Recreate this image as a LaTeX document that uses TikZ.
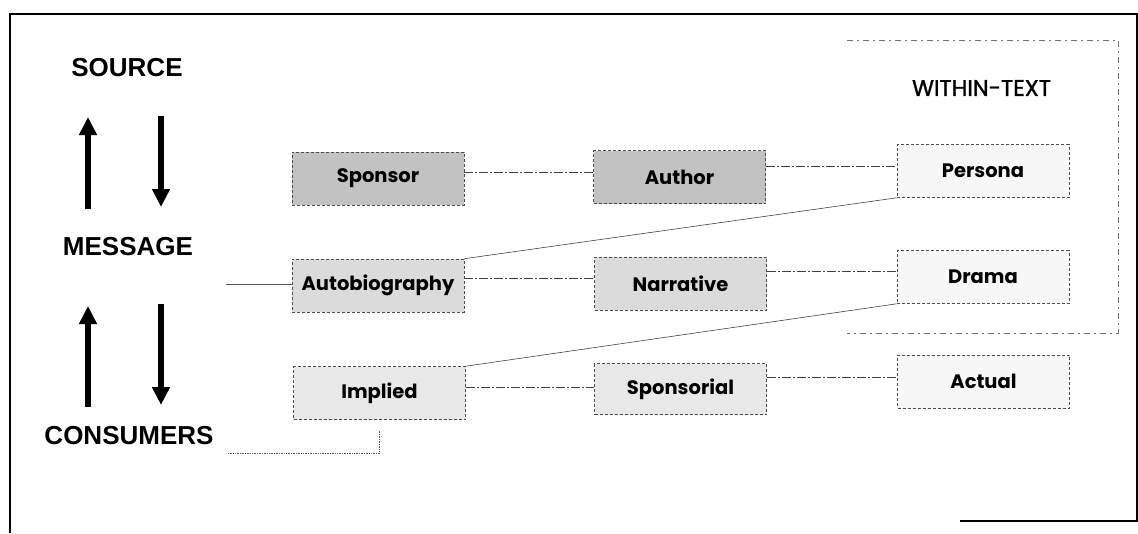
\documentclass[tikz,border=0pt]{standalone}
\usepackage{fontspec}
\setmainfont{Liberation Sans}
\newfontfamily\labelfont{Poppins}
\newfontfamily\withinfont[FakeBold=1.4]{Poppins}
\usetikzlibrary{arrows.meta}
\tikzset{
  heading/.style={font=\fontsize{26}{30}\selectfont\bfseries, inner sep=0pt},
  rolebox/.style={draw=black!70, densely dashed, line width=0.6pt,
    minimum width=172pt, minimum height=53pt, inner sep=0pt,
    font=\labelfont\fontsize{19.5}{22}\selectfont\bfseries},
  darkbox/.style={rolebox, fill=black!24},
  midbox/.style={rolebox, fill=black!14},
  lightbox/.style={rolebox, fill=black!9},
  textbox/.style={rolebox, fill=black!3},
  link/.style={draw=black!75, line width=0.6pt, dash pattern=on 9pt off 2pt on 2pt off 2pt},
  slant/.style={draw=black!75, line width=0.6pt},
  flow/.style={line width=6pt, -{Triangle[width=17pt,length=18pt]}},
  region/.style={draw=black!55, line width=0.6pt, dash pattern=on 6pt off 4pt on 2pt off 4pt}
}
\begin{document}
\begin{tikzpicture}[x=1pt,y=-1pt]
  \useasboundingbox (0,0) rectangle (1138,533);
  % outer frame
  \draw[line width=1.1pt] (10,533) -- (10,14) -- (1137,14) -- (1137,521) -- (960,521);

  % left column headings
  \node[heading] (source) at (127,67.5) {SOURCE};
  \node[heading] (message) at (128,246.5) {MESSAGE};
  \node[heading] (consumers) at (129,436) {CONSUMERS};

  % flow arrows between the headings
  \coordinate (u1s) at (88,209); \coordinate (u1e) at (88,117);
  \coordinate (d1s) at (161,116); \coordinate (d1e) at (161,207);
  \coordinate (u2s) at (88,407); \coordinate (u2e) at (88,306);
  \coordinate (d2s) at (161,304); \coordinate (d2e) at (161,405);
  \draw[flow] (u1s) -- (u1e);
  \draw[flow] (d1s) -- (d1e);
  \draw[flow] (u2s) -- (u2e);
  \draw[flow] (d2s) -- (d2e);

  % within-text region
  \draw[region] (847,40) -- (1118,40) -- (1118,333) -- (847,333);
  \node[font=\withinfont\fontsize{22.5}{26}\selectfont] (within) at (981.5,88) {WITHIN-TEXT};

  % role boxes
  \node[darkbox] (sponsor) at (378,178.5) {Sponsor};
  \node[darkbox] (author) at (679.5,177) {Author};
  \node[textbox] (persona) at (983,171) {Persona};
  \node[midbox] (autobio) at (378,285.5) {Autobiography};
  \node[midbox] (narrative) at (680.5,283.5) {Narrative};
  \node[textbox] (drama) at (983,277) {Drama};
  \node[lightbox] (implied) at (379.5,393) {Implied};
  \node[lightbox, minimum height=51pt] (sponsorial) at (680.5,389) {Sponsorial};
  \node[textbox] (actual) at (983.5,381.5) {Actual};

  % horizontal links
  \draw[link] ([yshift=6.5pt]sponsor.east) -- ([yshift=6.5pt]sponsor.east -| author.west);
  \draw[link] ([yshift=11pt]author.east) -- ([yshift=11pt]author.east -| persona.west);
  \draw[link] ([yshift=7.5pt]autobio.east) -- ([yshift=7.5pt]autobio.east -| narrative.west);
  \draw[link] ([yshift=12.5pt]narrative.east) -- ([yshift=12.5pt]narrative.east -| drama.west);
  \draw[link] ([yshift=6pt]implied.east) -- ([yshift=6pt]implied.east -| sponsorial.west);
  \draw[link] ([yshift=12pt]sponsorial.east) -- ([yshift=12pt]sponsorial.east -| actual.west);

  % diagonal links
  \draw[slant] (autobio.north east) -- (persona.south west);
  \draw[slant] (implied.north east) -- (drama.south west);

  % message and consumer links
  \coordinate (msgout) at (226,284.5);
  \draw[slant, draw=black!65] (msgout) -- (msgout -| autobio.west);
  \coordinate (consout) at (228,453);
  \coordinate (impfoot) at ([yshift=-11pt]implied.south);
  \draw[draw=black!65, line width=0.7pt, densely dotted] (consout) -| (impfoot);
\end{tikzpicture}
\end{document}
